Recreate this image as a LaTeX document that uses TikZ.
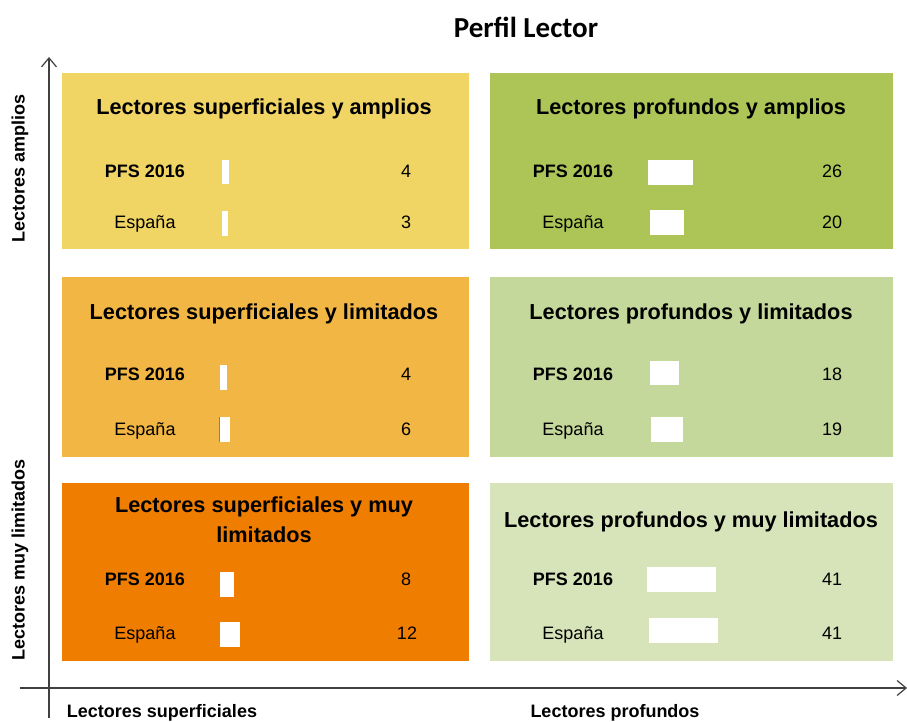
\documentclass[tikz,border=0pt]{standalone}
\usepackage{fontspec}
\setmainfont{Liberation Sans}
\newfontfamily\titlefont{Carlito}
\usepackage{tikz}
\usetikzlibrary{positioning,arrows.meta}
\definecolor{supamplio}{RGB}{240,212,100}
\definecolor{proamplio}{RGB}{173,197,86}
\definecolor{suplimit}{RGB}{242,182,68}
\definecolor{prolimit}{RGB}{196,216,155}
\definecolor{supmuy}{RGB}{239,125,0}
\definecolor{promuy}{RGB}{215,228,186}
\definecolor{axisgray}{RGB}{64,64,64}

\begin{document}
\begin{tikzpicture}[x=1pt,y=-1pt,
  panel/.style={inner sep=0pt, minimum width=407pt, minimum height=177pt},
  head/.style={anchor=base, inner sep=0pt, align=center, font=\fontsize{21.7}{30}\selectfont\bfseries},
  rowbold/.style={anchor=base, inner sep=0pt, font=\fontsize{18}{21}\selectfont\bfseries},
  rowlbl/.style={anchor=base, inner sep=0pt, font=\fontsize{18}{21}\selectfont},
  axlbl/.style={anchor=base, inner sep=0pt, font=\fontsize{18}{21}\selectfont\bfseries},
  axis/.style={draw=axisgray, line width=1.3pt, -{Straight Barb[length=9pt,width=15pt,line width=1.2pt]}}]
\useasboundingbox (0,0) rectangle (907,722);

% Title
\node[inner sep=0pt, font=\fontsize{29}{32}\selectfont\titlefont\bfseries] (title) at (526,27) {Perfil Lector};

% Quadrant panels (pixel coordinates, y down)
\node[panel, fill=supamplio, minimum height=176pt] (supAmp) at (265.5,161) {};
\node[panel, fill=proamplio, minimum width=403pt, minimum height=176pt] (proAmp) at (691.5,161) {};
\node[panel, fill=suplimit, minimum height=180pt] (supLim) at (265.5,367) {};
\node[panel, fill=prolimit, minimum width=403pt, minimum height=180pt] (proLim) at (691.5,367) {};
\node[panel, fill=supmuy, minimum height=178pt] (supMuy) at (265.5,572) {};
\node[panel, fill=promuy, minimum width=403pt, minimum height=178pt] (proMuy) at (691.5,572) {};

% Axes
\coordinate (yfoot) at (49,718);
\coordinate (ytop) at (49,57);
\coordinate (xfoot) at (20,688);
\coordinate (xtip) at (907,688);
\draw[axis] (yfoot) -- (ytop);
\draw[axis] (xfoot) -- (xtip);

% Axis labels
\node[axlbl, rotate=90] (ampLbl) at (24.5,168) {Lectores amplios};
\node[axlbl, rotate=90] (muyLbl) at (24.5,560) {Lectores muy limitados};
\node[axlbl] (supLbl) at (162,717.5) {Lectores superficiales};
\node[axlbl] (proLbl) at (615,717.5) {Lectores profundos};

% Top row: amplios
\node[head] (supAmpH) at (264,115) {Lectores superficiales y amplios};
\node[rowbold] (supAmpP) at (145,177.5) {PFS 2016};
\node[rowlbl] (supAmpE) at (145,228.5) {España};
\fill[white] (222,160) rectangle (229,184);
\fill[white] (222,211) rectangle (228,236);
\node[rowlbl] (supAmpPn) at (406,177.5) {4};
\node[rowlbl] (supAmpEn) at (406,228.5) {3};

\node[head] (proAmpH) at (691,115) {Lectores profundos y amplios};
\node[rowbold] (proAmpP) at (573,177.5) {PFS 2016};
\node[rowlbl] (proAmpE) at (573,228.5) {España};
\fill[white] (648,160) rectangle (693,185);
\fill[white] (650,210) rectangle (684,235);
\node[rowlbl] (proAmpPn) at (832,177.5) {26};
\node[rowlbl] (proAmpEn) at (832,228.5) {20};

% Middle row: limitados
\node[head] (supLimH) at (264,319) {Lectores superficiales y limitados};
\node[rowbold] (supLimP) at (145,380.5) {PFS 2016};
\node[rowlbl] (supLimE) at (145,435.5) {España};
\fill[white] (220,365) rectangle (227,390);
\fill[white] (220,417) rectangle (230,442);
\draw[gray, line width=1pt] (219.5,417) -- (219.5,442);
\node[rowlbl] (supLimPn) at (406,380.5) {4};
\node[rowlbl] (supLimEn) at (406,435.5) {6};

\node[head] (proLimH) at (691,319) {Lectores profundos y limitados};
\node[rowbold] (proLimP) at (573,380.5) {PFS 2016};
\node[rowlbl] (proLimE) at (573,435.5) {España};
\fill[white] (650,361) rectangle (679,385);
\fill[white] (651,417) rectangle (683,442);
\node[rowlbl] (proLimPn) at (832,380.5) {18};
\node[rowlbl] (proLimEn) at (832,435.5) {19};

% Bottom row: muy limitados (base of a two-line node is its last line)
\node[head] (supMuyH) at (264,542) {Lectores superficiales y muy\\limitados};
\node[rowbold] (supMuyP) at (145,585.5) {PFS 2016};
\node[rowlbl] (supMuyE) at (145,639.5) {España};
\fill[white] (220,572) rectangle (234,597);
\fill[white] (220,622) rectangle (240,647);
\node[rowlbl] (supMuyPn) at (406,585.5) {8};
\node[rowlbl] (supMuyEn) at (407,639.5) {12};

\node[head] (proMuyH) at (691,527) {Lectores profundos y muy limitados};
\node[rowbold] (proMuyP) at (573,585.5) {PFS 2016};
\node[rowlbl] (proMuyE) at (573,639.5) {España};
\fill[white] (647,567) rectangle (716,592);
\fill[white] (649,618) rectangle (718,643);
\node[rowlbl] (proMuyPn) at (832,585.5) {41};
\node[rowlbl] (proMuyEn) at (832,639.5) {41};
\end{tikzpicture}
\end{document}
